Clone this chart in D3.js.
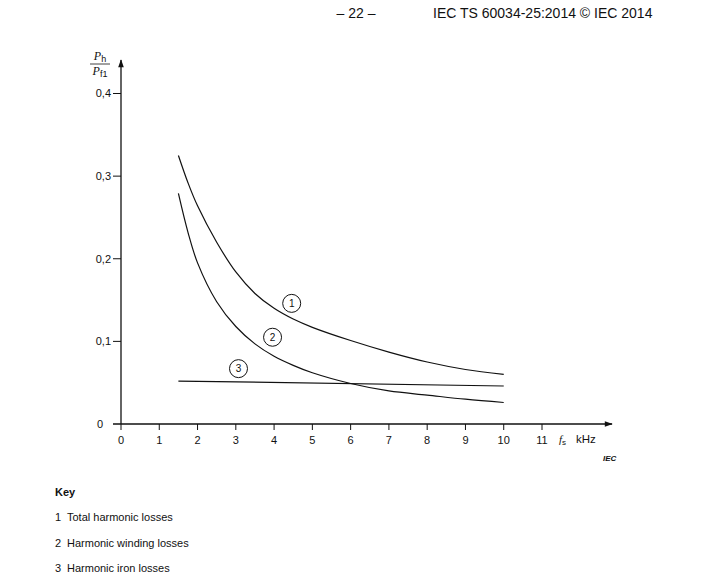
<!DOCTYPE html>
<html lang="en">
<head>
<meta charset="UTF-8">
<script src="https://d3js.org/d3.v7.min.js"></script>
<title>Harmonic losses vs switching frequency</title>
<style>
  body { margin: 0; background: #fff; }
  svg text { font-family: "Liberation Sans", Arial, sans-serif; fill: #111; }
</style>
</head>
<body>
<div id="chart"></div>
<script>
// --- data ---
const freq = [1.5, 1.75, 2, 2.5, 3, 3.5, 4, 4.5, 5, 6, 7, 8, 9, 10];
const totalLosses   = [0.325, 0.292, 0.264, 0.220, 0.184, 0.158, 0.140, 0.127, 0.117, 0.101, 0.087, 0.075, 0.066, 0.060];
const windingLosses = [0.279, 0.232, 0.195, 0.148, 0.118, 0.097, 0.082, 0.071, 0.062, 0.049, 0.040, 0.035, 0.030, 0.026];
const ironFreq = [1.5, 10];
const ironLosses = [0.052, 0.046];
const xTicks = [0, 1, 2, 3, 4, 5, 6, 7, 8, 9, 10, 11];
const yTicks = [0, 0.1, 0.2, 0.3, 0.4];
const curveTags = [
  {n: "1", x: 4.46, y: 0.146},
  {n: "2", x: 3.96, y: 0.105},
  {n: "3", x: 3.07, y: 0.067}
];
const keyItems = ["Total harmonic losses", "Harmonic winding losses", "Harmonic iron losses"];

const W = 711, H = 579;
const svg = d3.select("#chart").append("svg")
    .attr("width", W).attr("height", H);

const x = d3.scaleLinear().domain([0, 11]).range([121, 542]);
const y = d3.scaleLinear().domain([0, 0.4]).range([424, 93.5]);

// header
svg.append("text").attr("x", 356).attr("y", 18).attr("text-anchor", "middle")
    .style("font-size", "14px").text("\u2013 22 \u2013");
svg.append("text").attr("x", 433).attr("y", 18)
    .style("font-size", "14px").text("IEC TS 60034-25:2014 \u00A9 IEC 2014");

// arrow marker
svg.append("defs").append("marker")
    .attr("id", "arr").attr("viewBox", "0 0 10 10")
    .attr("refX", 9).attr("refY", 5)
    .attr("markerWidth", 10).attr("markerHeight", 8)
    .attr("markerUnits", "userSpaceOnUse")
    .attr("orient", "auto")
  .append("path").attr("d", "M0,1.5 L10,5 L0,8.5 Z").attr("fill", "#111");

// axes lines
svg.append("line").attr("x1", 113).attr("x2", 612)
    .attr("y1", y(0)).attr("y2", y(0))
    .attr("stroke", "#111").attr("stroke-width", 1.3).attr("marker-end", "url(#arr)");
svg.append("line").attr("x1", x(0)).attr("x2", x(0))
    .attr("y1", y(0)).attr("y2", 60)
    .attr("stroke", "#111").attr("stroke-width", 1.3).attr("marker-end", "url(#arr)");

// x ticks
const xt = svg.append("g").selectAll("g").data(xTicks).join("g")
    .attr("transform", d => `translate(${x(d)},${y(0)})`);
xt.append("line").attr("y1", 0).attr("y2", 6).attr("stroke", "#111").attr("stroke-width", 1);
xt.append("text").attr("y", 20).attr("text-anchor", "middle")
    .style("font-size", "11px").text(d => d);

// y ticks
const yt = svg.append("g").selectAll("g").data(yTicks).join("g")
    .attr("transform", d => `translate(${x(0)},${y(d)})`);
yt.filter(d => d > 0).append("line").attr("x1", -8).attr("x2", 0)
    .attr("stroke", "#111").attr("stroke-width", 1);
yt.append("text").attr("x", d => d === 0 ? -18 : -10).attr("dy", "0.35em")
    .attr("text-anchor", "end").style("font-size", "11px")
    .text(d => d === 0 ? "0" : d3.format(".1f")(d).replace(".", ","));

// y axis label: P_h / P_f1
const yl = svg.append("g").attr("transform", "translate(100,0)");
const t1 = yl.append("text").attr("x", 0).attr("y", 60).attr("text-anchor", "middle")
    .style("font-family", "'Liberation Serif', 'Times New Roman', serif").style("font-size", "12px");
t1.append("tspan").style("font-style", "italic").text("P");
t1.append("tspan").attr("dy", 2).style("font-size", "9px")
    .style("font-family", "'Liberation Sans', Arial, sans-serif").text("h");
yl.append("line").attr("x1", -10).attr("x2", 10).attr("y1", 64).attr("y2", 64)
    .attr("stroke", "#111").attr("stroke-width", 0.8);
const t2 = yl.append("text").attr("x", 0).attr("y", 75).attr("text-anchor", "middle")
    .style("font-family", "'Liberation Serif', 'Times New Roman', serif").style("font-size", "12px");
t2.append("tspan").style("font-style", "italic").text("P");
t2.append("tspan").attr("dy", 2).style("font-size", "9px")
    .style("font-family", "'Liberation Sans', Arial, sans-serif").text("f1");

// x axis label
const xl = svg.append("text").attr("x", 559).attr("y", 443).style("font-size", "11px");
xl.append("tspan").style("font-style", "italic")
    .style("font-family", "'Liberation Serif', 'Times New Roman', serif").text("f");
xl.append("tspan").attr("dy", 2).style("font-size", "8px").text("s");
xl.append("tspan").attr("dy", -2).attr("dx", 10).style("font-size", "11.5px").text("kHz");

svg.append("text").attr("x", 603).attr("y", 461)
    .style("font-size", "8px").style("font-style", "italic").style("font-weight", "bold")
    .text("IEC");

// curves
const line = d3.line().x(d => x(d[0])).y(d => y(d[1])).curve(d3.curveCatmullRom.alpha(0.5));
const series = [
  d3.zip(freq, totalLosses),
  d3.zip(freq, windingLosses),
  d3.zip(ironFreq, ironLosses)
];
svg.append("g").selectAll("path").data(series).join("path")
    .attr("d", line).attr("fill", "none")
    .attr("stroke", "#111").attr("stroke-width", 1.2);

// curve number tags
const tg = svg.append("g").selectAll("g").data(curveTags).join("g")
    .attr("transform", d => `translate(${x(d.x)},${y(d.y)})`);
tg.append("circle").attr("r", 9).attr("fill", "#fff")
    .attr("stroke", "#111").attr("stroke-width", 1);
tg.append("text").attr("text-anchor", "middle").attr("dy", "0.36em")
    .style("font-size", "10px").text(d => d.n);

// key
svg.append("text").attr("x", 55).attr("y", 496)
    .style("font-size", "11px").style("font-weight", "bold").text("Key");
const ki = svg.append("g").selectAll("g").data(keyItems).join("g")
    .attr("transform", (d, i) => `translate(55,${521 + i * 25.5})`);
ki.append("text").style("font-size", "11px").text((d, i) => i + 1);
ki.append("text").attr("x", 12).style("font-size", "11px").text(d => d);
</script>
</body>
</html>
